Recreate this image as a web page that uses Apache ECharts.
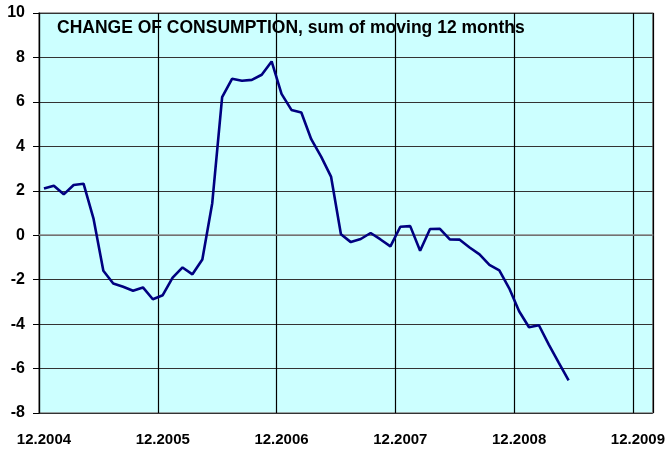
<!DOCTYPE html>
<html>
<head>
<meta charset="utf-8">
<script src="https://cdn.jsdelivr.net/npm/echarts@6/dist/echarts.min.js"></script>
<style>
html,body{margin:0;padding:0;background:#fff;}
#c{width:668px;height:449px;}
</style>
</head>
<body>
<div id="c"></div>
<script>
const titleText = "CHANGE OF CONSUMPTION, sum of moving 12 months";
const tickLabels = ["12.2004","12.2005","12.2006","12.2007","12.2008","12.2009"];
const monthsTotal = 62;
const values = [
  2.10, 2.23, 1.84, 2.26, 2.32, 0.76, -1.60, -2.17, -2.32, -2.50,
  -2.35, -2.88, -2.70, -1.91, -1.45, -1.76, -1.09, 1.44, 6.21, 7.04,
  6.95, 6.99, 7.22, 7.82, 6.36, 5.64, 5.52, 4.32, 3.54, 2.64,
  0.04, -0.31, -0.17, 0.10, -0.19, -0.50, 0.38, 0.41, -0.70, 0.28,
  0.29, -0.19, -0.20, -0.55, -0.86, -1.33, -1.58, -2.39, -3.42, -4.14,
  -4.05, -4.92, -5.73, -6.53
];
const yMin = -8, yMax = 10, yStep = 2;

const categories = [];
for (let i = 0; i < monthsTotal; i++) {
  categories.push(i % 12 === 0 ? tickLabels[i / 12] : "m" + i);
}
const font = "'Liberation Sans', Arial, sans-serif";
const chart = echarts.init(document.getElementById('c'));
chart.setOption({
  animation: false,
  title: {
    text: titleText, left: 52, top: 14,
    textStyle: {fontFamily: font, fontWeight: 'bold', fontSize: 17.5, color: '#000'}
  },
  grid: {
    left: 39, right: 13, top: 13, bottom: 36,
    show: true, backgroundColor: '#CCFFFF', borderColor: '#888', borderWidth: 1.5
  },
  xAxis: {
    type: 'category', data: categories, boundaryGap: true,
    axisLine: {show: true, lineStyle: {color: '#888', width: 1.5}},
    axisTick: {show: false},
    axisLabel: {
      interval: 11, margin: 19, color: '#000',
      fontFamily: font, fontWeight: 'bold', fontSize: 15,
      formatter: v => v.charAt(0) === 'm' ? '' : v
    },
    splitLine: {show: true, interval: 11, lineStyle: {color: '#000', width: 1.2}}
  },
  yAxis: {
    type: 'value', min: yMin, max: yMax, interval: yStep,
    axisLine: {show: true, lineStyle: {color: '#000', width: 1.2}},
    axisTick: {show: true, length: 6, lineStyle: {color: '#000'}},
    axisLabel: {margin: 14, color: '#000', fontFamily: font, fontWeight: 'bold', fontSize: 16},
    splitLine: {show: true, lineStyle: {color: '#333', width: 1.2}}
  },
  series: [{
    type: 'line', data: values, symbol: 'none',
    lineStyle: {color: '#000080', width: 2.6}
  }]
});
</script>
</body>
</html>
